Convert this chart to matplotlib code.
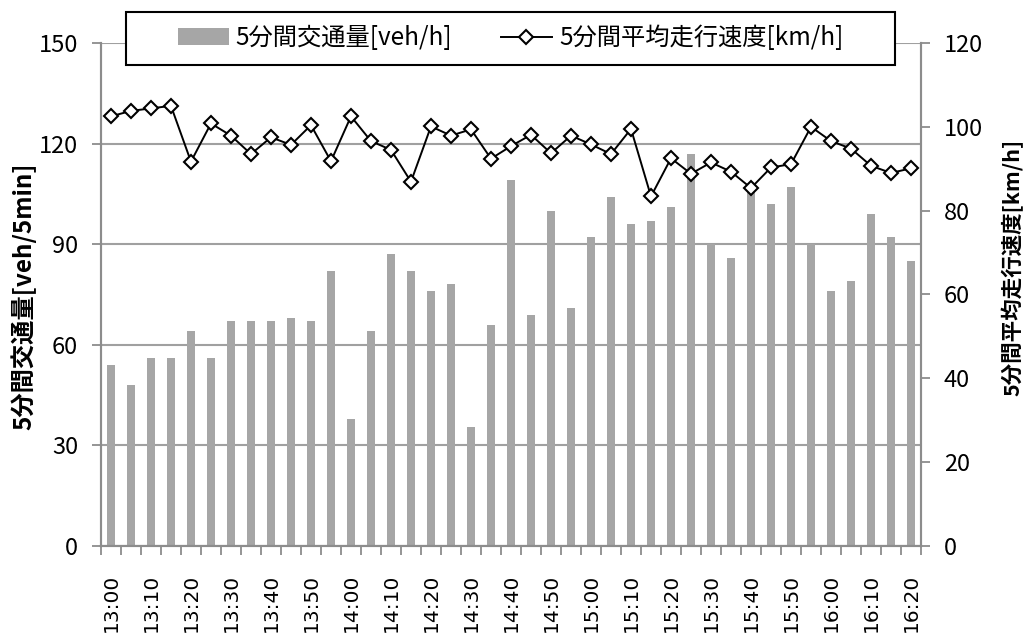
import matplotlib
matplotlib.use("Agg")
import matplotlib.pyplot as plt
from matplotlib.patches import Rectangle
import numpy as np

plt.rcParams['font.family'] = ['Noto Sans CJK JP', 'DejaVu Sans']

# 13:00 - 16:20, 5-minute intervals
times = ['13:00', '13:05', '13:10', '13:15', '13:20', '13:25', '13:30', '13:35',
         '13:40', '13:45', '13:50', '13:55', '14:00', '14:05', '14:10', '14:15',
         '14:20', '14:25', '14:30', '14:35', '14:40', '14:45', '14:50', '14:55',
         '15:00', '15:05', '15:10', '15:15', '15:20', '15:25', '15:30', '15:35',
         '15:40', '15:45', '15:50', '15:55', '16:00', '16:05', '16:10', '16:15',
         '16:20']

volume = [54, 48, 56, 56, 64, 56, 67, 67, 67, 68, 67, 82, 38, 64, 87, 82,
          76, 78, 35.5, 66, 109, 69, 100, 71, 92, 104, 96, 97, 101, 117, 90, 86,
          106, 102, 107, 90, 76, 79, 99, 92, 85]

speed = [102.5, 103.8, 104.4, 105.0, 91.7, 100.8, 97.9, 93.5, 97.5, 95.7,
         100.4, 91.8, 102.5, 96.6, 94.5, 86.9, 100.1, 97.9, 99.4, 92.4, 95.4,
         98.1, 93.7, 97.9, 95.8, 93.5, 99.5, 83.4, 92.5, 88.8, 91.5, 89.3,
         85.4, 90.3, 91.1, 100.0, 96.6, 94.8, 90.7, 89.0, 90.1]

x = np.arange(len(times))
axis_gray = '#8c8c8c'

fig = plt.figure(figsize=(10.27, 6.36), dpi=100)
ax = fig.add_axes([0.0983, 0.1415, 0.7985, 0.7909])
ax2 = ax.twinx()

bars = ax.bar(x, volume, width=0.42, color='#a6a6a6', zorder=2,
              label='5分間交通量[veh/h]')
line, = ax2.plot(x, speed, color='black', lw=1.4, marker='D', markersize=7.5,
                 markerfacecolor='white', markeredgecolor='black',
                 markeredgewidth=1.5, label='5分間平均走行速度[km/h]')

ax.set_xlim(-0.5, len(times) - 0.5)
ax.set_ylim(0, 150)
ax.set_yticks(range(0, 151, 30))
ax2.set_ylim(0, 120)
ax2.set_yticks(range(0, 121, 20))

ax.set_axisbelow(True)
ax.yaxis.grid(True, color='#a0a0a0', lw=1.5)

# category boundaries as ticks, labels every 10 minutes
ax.set_xticks(np.arange(-0.5, len(times), 1.0), minor=True)
ax.set_xticks(x[::2])
ax.set_xticklabels(times[::2], rotation=90, fontsize=14.5,
                   family='DejaVu Sans')
ax.tick_params(axis='x', which='major', length=0, pad=20)
ax.tick_params(axis='x', which='minor', length=6.5, width=1.3, color=axis_gray)
ax.tick_params(axis='y', length=6.5, width=1.3, color=axis_gray,
               labelsize=17, pad=10)
ax2.tick_params(axis='y', length=6.5, width=1.3, color=axis_gray,
                labelsize=17, pad=10)

for a in (ax, ax2):
    for side in ('left', 'right', 'bottom'):
        a.spines[side].set_color(axis_gray)
        a.spines[side].set_linewidth(1.5)
    a.spines['top'].set_visible(False)

fig.text(0.0234, 0.5346, '5分間交通量[veh/5min]', rotation=90, fontsize=17.5,
         fontweight='bold', ha='center', va='center')
fig.text(0.9854, 0.580, '5分間平均走行速度[km/h]', rotation=90, fontsize=15.5,
         fontweight='bold', ha='center', va='center')

# legend box drawn separately so the entries stay grouped in the middle
fig.patches.append(Rectangle((0.1227, 0.8978), 0.7488, 0.0833,
                             transform=fig.transFigure, facecolor='white',
                             edgecolor='black', lw=1.5, zorder=5))
leg = fig.legend([bars, line], [bars.get_label(), line.get_label()],
                 ncol=2, loc='center', bbox_to_anchor=(0.4971, 0.9395),
                 fontsize=17.5, frameon=False, handlelength=2.1,
                 handletextpad=0.3, columnspacing=2.0, borderaxespad=0)
leg.set_zorder(6)

fig.savefig('out.png', dpi=100)
